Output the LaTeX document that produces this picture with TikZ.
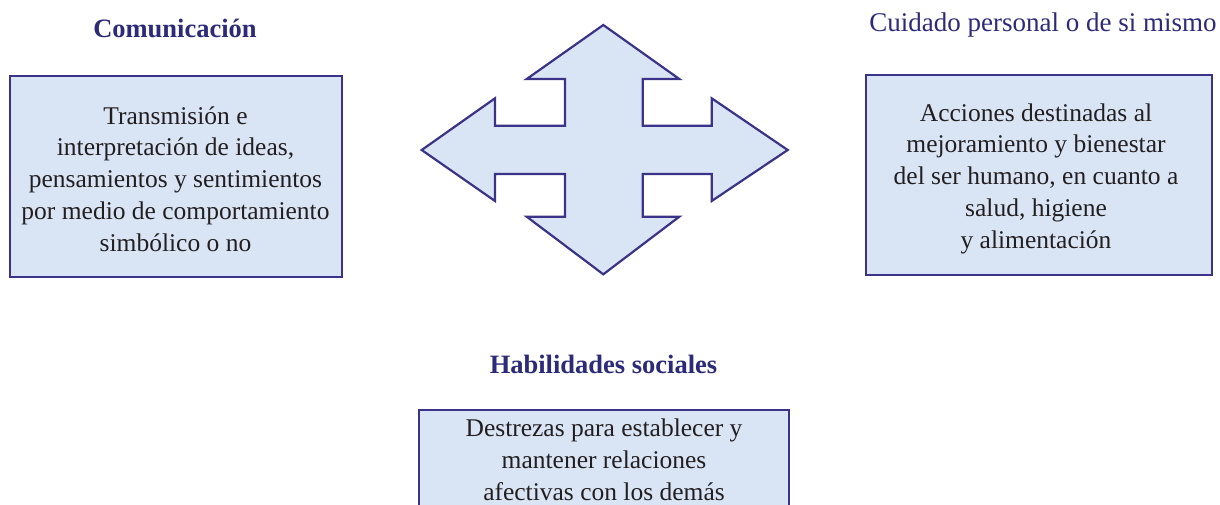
\documentclass[tikz,border=0pt]{standalone}
\usepackage{fontspec}
\setmainfont{Liberation Serif}
\definecolor{boxfill}{HTML}{D9E5F5}
\definecolor{navy}{HTML}{3A3388}
\definecolor{titlecol}{HTML}{2C2B7A}
\definecolor{bodytext}{HTML}{231F20}
\tikzset{
  infobox/.style={draw=navy, fill=boxfill, line width=2pt, inner sep=0pt},
  boxtext/.style={align=center, text=bodytext, font=\fontsize{25.5}{31.8}\selectfont, inner sep=0pt},
  boldtitle/.style={text=titlecol, font=\bfseries\fontsize{26.5}{32}\selectfont, anchor=base, inner sep=0pt},
  plaintitle/.style={text=titlecol, font=\fontsize{27}{32}\selectfont, anchor=base, inner sep=0pt},
  crossarrow/.style={draw=navy, fill=boxfill, line width=2.2pt, line join=miter}
}
\begin{document}
\begin{tikzpicture}[x=1pt, y=-1pt]
\useasboundingbox (0,0) rectangle (1220,504);
\clip (0,0) rectangle (1220,504);
\fill[white] (0,0) rectangle (1220,504);

% titles
\node[boldtitle] (t1) at (175,37.5) {Comunicación};
\node[plaintitle] (t2) at (1043,31.5) {Cuidado personal o de si mismo};
\node[boldtitle] (t3) at (603.5,373) {Habilidades sociales};

% boxes
\node[infobox, minimum width=332pt, minimum height=201pt] (b1) at (175.5,176) {};
\node[boxtext] (b1t) at (175.5,179)
  {Transmisión e\\interpretación de ideas,\\pensamientos y sentimientos\\por medio de comportamiento\\simbólico o no};
\node[infobox, minimum width=346pt, minimum height=200pt] (b2) at (1039,175) {};
\node[boxtext] (b2t) at (1036,178.5)
  {Acciones destinadas al\\mejoramiento y bienestar\\del ser humano, en cuanto a\\salud, higiene\\y alimentación};
\node[infobox, minimum width=370pt, minimum height=128pt] (b3) at (604,474) {};
\node[boxtext] (b3t) at (604,460)
  {Destrezas para establecer y\\mantener relaciones\\afectivas con los demás};

% four-way arrow
\draw[crossarrow] (603.3,25) -- (679.3,79) -- (642.7,79) -- (642.7,125.7)
  -- (711.7,125.7) -- (711.7,98.3) -- (787.7,150) -- (711.7,201) -- (711.7,174)
  -- (642.7,174) -- (642.7,216.7) -- (679.3,216.7) -- (603.3,274.3)
  -- (526.7,216.7) -- (565,216.7) -- (565,174) -- (495,174) -- (495,201)
  -- (421.7,150) -- (495,98.3) -- (495,125.7) -- (565,125.7) -- (565,79)
  -- (526.7,79) -- cycle;
\end{tikzpicture}
\end{document}
